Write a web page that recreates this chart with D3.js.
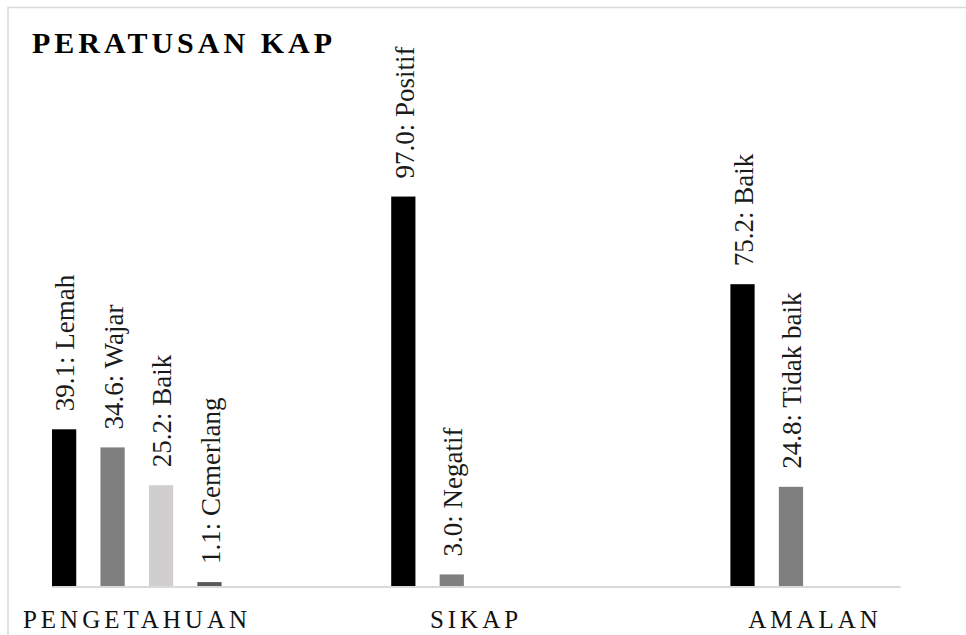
<!DOCTYPE html>
<html>
<head>
<meta charset="utf-8">
<script src="https://cdn.jsdelivr.net/npm/d3@7"></script>
<style>
  html, body { margin: 0; padding: 0; background: #fff; }
  svg { display: block; font-family: "Liberation Serif", "Times New Roman", serif; }
</style>
</head>
<body>
<svg width="966" height="635"></svg>
<script>
const categories = ['PENGETAHUAN', 'SIKAP', 'AMALAN'];

const pengetahuanLabels = ['Lemah', 'Wajar', 'Baik', 'Cemerlang'];
const pengetahuanValues = [39.1, 34.6, 25.2, 1.1];

const sikapLabels = ['Positif', 'Negatif'];
const sikapValues = [97.0, 3.0];

const amalanLabels = ['Baik', 'Tidak baik'];
const amalanValues = [75.2, 24.8];

const barColors = ['#000000', '#7f7f7f', '#d0cece', '#595959'];

const groups = [
    { labels: pengetahuanLabels, values: pengetahuanValues },
    { labels: sikapLabels, values: sikapValues },
    { labels: amalanLabels, values: amalanValues }
];

const svg = d3.select('svg');
svg.selectAll('*').remove();

const width = 966;
const height = 635;
const slotsPerGroup = 7;

// chart frame (runs off the right and bottom edges)
svg.append('rect')
    .attr('x', 8)
    .attr('y', 7.5)
    .attr('width', width + 20)
    .attr('height', height + 20)
    .attr('fill', '#fff')
    .attr('stroke', '#d9d9d9')
    .attr('stroke-width', 1.5);

svg.append('text')
    .attr('x', 32)
    .attr('y', 52.5)
    .attr('font-size', 30)
    .attr('font-weight', 'bold')
    .attr('letter-spacing', 4)
    .attr('fill', '#000')
    .text('PERATUSAN KAP');

const bars = [];
groups.forEach((g, i) => g.values.forEach((v, j) => bars.push({
    slot: i * slotsPerGroup + j,
    value: v,
    label: g.labels[j],
    color: barColors[j]
})));

const x = d3.scaleBand()
    .domain(d3.range(18))
    .range([52, 900])
    .paddingInner(0.5)
    .paddingOuter(0)
    .align(0);

const y = d3.scaleLinear()
    .domain([0, 100])
    .range([586.5, 184.5]);

const labelX = d3.scalePoint()
    .domain(categories)
    .range([137, 815]);

svg.selectAll('rect.bar')
    .data(bars)
    .join('rect')
    .attr('class', 'bar')
    .attr('x', d => x(d.slot))
    .attr('y', d => y(d.value))
    .attr('width', x.bandwidth())
    .attr('height', d => y(0) - y(d.value))
    .attr('fill', d => d.color);

svg.selectAll('text.value')
    .data(bars)
    .join('text')
    .attr('class', 'value')
    .attr('transform', d => `translate(${x(d.slot) + x.bandwidth() / 2},${y(d.value) - 18}) rotate(-90)`)
    .attr('dy', '0.38em')
    .attr('font-size', 27)
    .attr('fill', '#1a1a1a')
    .text(d => `${d.value.toFixed(1)}: ${d.label}`);

const axis = svg.append('g')
    .attr('transform', `translate(0,${y(0)})`)
    .call(d3.axisBottom(x).tickSize(0).tickFormat(''));
axis.select('.domain')
    .attr('stroke', '#d9d9d9')
    .attr('stroke-width', 2);

svg.selectAll('text.cat')
    .data(categories)
    .join('text')
    .attr('class', 'cat')
    .attr('x', d => labelX(d))
    .attr('y', 627.5)
    .attr('text-anchor', 'middle')
    .attr('font-size', 25)
    .attr('letter-spacing', 4)
    .attr('fill', '#111')
    .text(d => d);
</script>
</body>
</html>
